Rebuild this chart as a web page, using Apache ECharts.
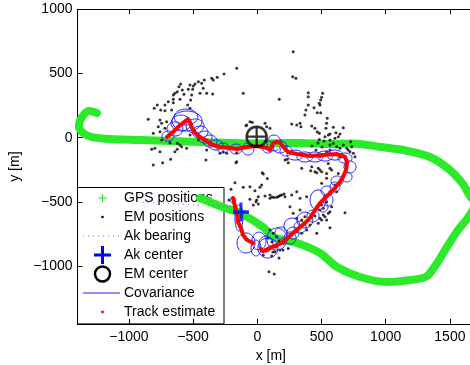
<!DOCTYPE html>
<html><head><meta charset="utf-8">
<script src="https://cdn.jsdelivr.net/npm/echarts@6/dist/echarts.min.js"></script>
<style>html,body{margin:0;padding:0;background:#fff}#c{width:470px;height:365px}</style>
</head><body><div id="c"></div>
<script>
const xTicks = [-1000, -500, 0, 500, 1000, 1500];
const yTicks = [-1000, -500, 0, 500, 1000];

const gpsPositions = [
  [-1248,192],[-1311,208],[-1365,161],[-1389,91],[-1357,37],[-1287,5],[-1147,-10],[-914,-18],[-680,-26],
  [-446,-33],[-213,-41],[-2,-45],[177,-41],[333,-41],[566,-49],[745,-45],[956,-72],[1135,-96],[1345,-150],
  [1501,-252],[1602,-362],[1657,-456],[1703,-510],[1688,-548],[1633,-633],[1563,-719],[1477,-851],[1400,-977],
  [1322,-1078],[1244,-1101],[1112,-1117],[1010,-1124],[800,-1085],[621,-1007],[488,-898],[309,-820],[123,-774],
  [44,-695],[-135,-586],[-251,-548],[-446,-470]
];

const emPositions = [
  [-160,540],[-259,496],[-312,470],[-355,463],[-343,449],[-413,449],[-459,436],[-433,424],[-485,418],[-498,403],
  [-524,410],[-597,418],[-610,397],[-584,371],[-623,358],[-641,346],[-654,333],[-571,338],[-537,377],[-503,377],
  [-421,385],[-394,346],[-347,340],[-446,346],[-511,333],[-109,346],[-654,299],[-602,299],[-693,280],[-719,255],
  [-654,272],[-519,294],[-542,255],[-524,229],[-779,255],[-802,229],[-752,216],[-719,210],[-667,216],[-849,143],
  [-758,138],[-745,112],[-706,125],[-771,86],[-719,73],[-810,34],[-758,47],[-745,-18],[-83,99],[-57,125],
  [-623,-44],[-602,-57],[-680,-39],[-822,-90],[-797,-83],[-758,-109],[-641,-109],[-623,-90],[-550,-83],[-394,-96],
  [-291,-121],[-265,-109],[-238,-121],[-160,-117],[-810,-213],[-737,-195],[-675,-168],[-400,-174],[-160,-187],[-459,-18],
  [-524,21],[-485,47],[-446,8],[-589,-70],
  [280,670],[276,475],[301,463],[171,299],[397,350],[397,319],[509,346],[501,315],[494,294],[483,268],
  [488,255],[397,255],[442,234],[379,216],[467,195],[494,195],[371,177],[545,151],[-39,120],[-88,93],
  [60,112],[73,86],[99,73],[268,107],[307,99],[333,112],[340,86],[424,91],[449,73],[467,47],
  [483,34],[540,112],[535,73],[592,81],[670,78],[553,21],[613,39],[631,8],[566,-18],[483,-13],
  [592,-44],[618,-70],[644,-83],[727,-31],[735,-70],[696,-83],[722,-109],[761,-148],[566,-96],[540,-109],
  [488,-148],[-166,-195],[216,-174],[241,-195],[346,-238],[424,-226],[475,-238],[416,-257],[463,-273],[501,-265],
  [566,-238],[39,-273],[78,-317],
  [566,29],[644,29],[527,8],[605,-5],[566,-57],[670,-57],[709,-96],[748,-122],[644,-148],[553,-200],
  [579,-252],[631,-278],[540,-316],[501,-355],[605,-368],[566,-421],[618,-421],[527,-459],[514,-550],[579,-537],
  [553,-589],[488,-563],[527,-615],[501,-641],[683,-584],[566,-701],[540,-498],
  [21,-386],[-18,-413],[-57,-480],[-10,-498],[8,-516],[60,-454],[99,-472],[151,-464],[190,-446],[208,-438],
  [268,-446],[307,-421],[333,-472],[385,-459],[255,-537],[280,-589],[333,-563],[371,-615],[307,-628],[346,-641],
  [463,-537],[501,-524],[449,-610],[488,-628],[514,-602],[540,-641],[566,-576],[475,-667],[410,-680],[385,-719],
  [463,-745],[307,-732],[346,-745],[99,-719],[125,-745],[151,-771],[203,-823],[241,-862],[177,-875],[138,-888],
  [99,-849],[73,-875],[112,-921],[47,-913],[91,-1044],[132,-1062],
  [-174,-350],[-109,-386],[-57,-381],[34,-368],[47,-283],[233,-168],[99,-446],[177,-451],[216,-459],[-5,-485],
  [-31,-524],[8,-459],[449,-265],[488,-252],[540,-278],
  [83,-781],[114,-812],[146,-851],[169,-805],[122,-890],[200,-875],[169,-937],[473,-41],[504,-72],[457,-96],
  [519,-26],[426,-65],[-220,-485],[-205,-401],[115,-462],[130,-466],[165,-458]
];

const trackEstimate = [
  [-703,5],[-657,44],[-618,83],[-579,114],[-540,145],[-524,122],[-508,75],[-485,37],[-446,5],[-392,-26],
  [-345,-57],[-291,-72],[-213,-80],[-158,-88],[-80,-72],[-2,-65],[76,-80],[99,-96],[123,-41],[153,-33],
  [177,-41],[239,-111],[309,-127],[410,-143],[512,-135],[621,-127],[683,-150],[699,-189],[691,-252],[667,-306],
  [644,-345],[605,-392],[566,-431],[527,-470],[488,-509],[434,-587],[410,-626],[371,-665],[333,-696],[278,-742],
  [239,-781],[200,-813],[153,-836],[99,-859],[44,-883],[29,-867]
];
const trackEstimate2 = [
  [-189,-470],[-174,-532],[-166,-563],[-158,-587],[-150,-657],[-127,-703],[-111,-758],[-80,-797],[-33,-820]
];

const covCenters = [
  [-695,13],[-641,68],[-594,114],[-547,130],[-555,161],[-485,91],[-446,44],[-407,5],[-368,-26],[-322,-57],
  [-267,-80],[-166,-88],[-72,-88],[83,-72],[130,-41],[177,-72],[224,-104],[294,-135],[371,-150],[449,-150],
  [527,-143],[605,-135],[683,-158],[722,-228],[699,-306],[621,-337],[605,-384],[543,-415],[551,-485],[512,-540],
  [473,-485],[434,-610],[371,-641],[270,-688],[278,-742],[255,-781],[153,-789],[83,-859],[13,-805],[-10,-859],
  [68,-828],[-88,-820],[-143,-625],[-189,-485],[185,-742],[333,-696]
];
const covRadii = [
  [47,39],[62,55],[78,62],[117,78],[93,62],[70,55],[62,47],[55,47],[55,47],[55,39],
  [47,39],[47,39],[47,47],[47,47],[55,62],[55,47],[47,39],[62,39],[62,39],[62,39],
  [62,39],[62,39],[55,39],[47,47],[39,39],[47,39],[39,39],[47,39],[39,47],[39,39],
  [62,78],[47,47],[62,62],[62,62],[47,47],[47,47],[78,86],[78,78],[55,70],[39,62],
  [55,62],[70,78],[31,101],[23,23],[47,47],[47,47]
];

const akCenter = [[-127,-579]];
const emCenter = [[-5,8]];
const akBearing = [[-890,-501],[-189,-540]];

const legendNames = ['GPS positions','EM positions','Ak bearing','Ak center','EM center','Covariance','Track estimate'];

const FONT = '"Liberation Sans", Arial, Helvetica, sans-serif';
const PLUS = 'path://M6.5,0H9.5V6.5H16V9.5H9.5V16H6.5V9.5H0V6.5H6.5Z';
const PLUS_THIN = 'path://M7,0H9V7H16V9H9V16H7V9H0V7H7Z';
const fmt = v => (v < 0 ? '\u2212' + (-v) : '' + v);

function renderEllipse(params, api) {
  const cx = api.value(0), cy = api.value(1), a = api.value(2), b = api.value(3);
  const pts = [];
  for (let i = 0; i < 48; i++) {
    const t = i / 48 * 2 * Math.PI;
    pts.push(api.coord([cx + a * Math.cos(t), cy + b * Math.sin(t)]));
  }
  return { type: 'polygon', shape: { points: pts }, style: { fill: 'none', stroke: '#2020ff', lineWidth: 1 } };
}

const chart = echarts.init(document.getElementById('c'), null, { renderer: 'canvas' });

const legX = 77.5, legY = 187.5, rowY0 = 198, rowH = 19, txtX = 124, icX = 102.5;
const legendChildren = [
  { type: 'rect', shape: { x: legX, y: legY, width: 146.5, height: 136.4 }, style: { fill: '#fff', stroke: '#000', lineWidth: 1 } },
  { type: 'line', shape: { x1: icX - 4, y1: rowY0, x2: icX + 4, y2: rowY0 }, style: { stroke: '#1ee81e', lineWidth: 1 } },
  { type: 'line', shape: { x1: icX, y1: rowY0 - 4, x2: icX, y2: rowY0 + 4 }, style: { stroke: '#1ee81e', lineWidth: 1 } },
  { type: 'circle', shape: { cx: icX, cy: rowY0 + rowH, r: 1.3 }, style: { fill: '#000' } },
  { type: 'line', shape: { x1: 83, y1: rowY0 + 2 * rowH, x2: 120, y2: rowY0 + 2 * rowH }, style: { stroke: '#6a6aff', lineWidth: 1, lineDash: [1, 4] } },
  { type: 'line', shape: { x1: icX - 8.5, y1: rowY0 + 3 * rowH, x2: icX + 8.5, y2: rowY0 + 3 * rowH }, style: { stroke: '#0000ff', lineWidth: 3 } },
  { type: 'line', shape: { x1: icX, y1: rowY0 + 3 * rowH - 9, x2: icX, y2: rowY0 + 3 * rowH + 9 }, style: { stroke: '#0000ff', lineWidth: 3 } },
  { type: 'circle', shape: { cx: icX, cy: rowY0 + 4 * rowH, r: 7.5 }, style: { fill: 'none', stroke: '#000', lineWidth: 2.5 } },
  { type: 'line', shape: { x1: 83, y1: rowY0 + 5 * rowH, x2: 120, y2: rowY0 + 5 * rowH }, style: { stroke: '#2020ff', lineWidth: 1 } },
  { type: 'circle', shape: { cx: icX, cy: rowY0 + 6 * rowH, r: 1.4 }, style: { fill: '#ff0000' } }
];
legendNames.forEach((n, i) => {
  legendChildren.push({ type: 'text', x: txtX, y: rowY0 + i * rowH,
    style: { text: n, fill: '#000', font: '14px ' + FONT, verticalAlign: 'middle', align: 'left' } });
});

const xBase = {
  type: 'value', min: -1400, max: 2000, gridIndex: 0,
  splitLine: { show: false },
  axisLine: { show: true, onZero: false, lineStyle: { color: '#000', width: 1 } },
  axisTick: { show: true, inside: true, length: 5, customValues: xTicks, lineStyle: { color: '#000' } }
};

chart.setOption({
  animation: false,
  textStyle: { fontFamily: FONT },
  grid: { left: 77.5, top: 9.3, width: 436.6, height: 314.6, containLabel: false, outerBoundsMode: 'none' },
  xAxis: [
    Object.assign({}, xBase, {
      position: 'bottom',
      axisLabel: { show: true, customValues: xTicks, formatter: fmt, color: '#000', fontSize: 14, margin: 6, fontFamily: FONT },
      name: 'x [m]', nameLocation: 'middle', nameGap: 21,
      nameTextStyle: { color: '#000', fontSize: 14, fontFamily: FONT, padding: [0, 50, 0, 0] }
    }),
    Object.assign({}, xBase, { position: 'top', axisLabel: { show: false } })
  ],
  yAxis: [{
    type: 'value', min: -1450, max: 1000, position: 'left',
    splitLine: { show: false },
    axisLine: { show: true, onZero: false, lineStyle: { color: '#000', width: 1 } },
    axisTick: { show: true, inside: true, length: 5, customValues: yTicks, lineStyle: { color: '#000' } },
    axisLabel: { show: true, customValues: yTicks, formatter: fmt, color: '#000', fontSize: 14, margin: 5, fontFamily: FONT },
    name: 'y [m]', nameLocation: 'middle', nameGap: 41,
    nameTextStyle: { color: '#000', fontSize: 14, fontFamily: FONT }
  }],
  graphic: { elements: [ { type: 'group', x: 0, y: 0, z: 10, children: legendChildren } ] },
  series: [
    { name: 'GPS positions', type: 'line', data: gpsPositions, smooth: 0.3, symbol: 'none', z: 2,
      lineStyle: { color: '#2aea2a', width: 8, cap: 'round', join: 'round' } },
    { name: 'EM positions', type: 'scatter', data: emPositions, symbol: 'circle', symbolSize: 3, z: 3,
      itemStyle: { color: '#000' } },
    { name: 'Covariance', type: 'custom', data: covCenters.map((c, i) => [c[0], c[1], covRadii[i][0], covRadii[i][1]]),
      renderItem: renderEllipse, encode: { x: 0, y: 1 }, z: 4 },
    { name: 'Track estimate', type: 'line', data: trackEstimate, symbol: 'none', z: 5,
      lineStyle: { color: '#ff0000', width: 4, join: 'round', cap: 'round' } },
    { name: 'Track estimate', type: 'line', data: trackEstimate2, symbol: 'none', z: 5,
      lineStyle: { color: '#ff0000', width: 4, join: 'round', cap: 'round' } },
    { name: 'Ak center', type: 'scatter', data: akCenter, symbol: PLUS, symbolSize: [16, 19], z: 6,
      itemStyle: { color: '#0000ff' } },
    { name: 'EM center', type: 'scatter', data: emCenter, symbol: 'circle', symbolSize: 20, z: 6,
      itemStyle: { color: 'none', borderColor: '#000', borderWidth: 2.5 } },
    { name: 'EM center mark', type: 'scatter', data: emCenter, symbol: PLUS_THIN, symbolSize: 18, z: 6,
      itemStyle: { color: '#000' } },
    { name: 'Ak bearing', type: 'line', data: akBearing, symbol: 'none', z: 20,
      lineStyle: { color: '#7070ff', width: 1, type: [1, 4] } }
  ]
});
</script>
</body></html>
